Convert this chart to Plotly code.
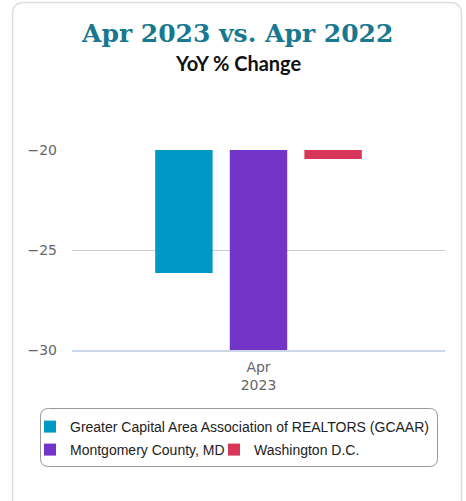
import plotly.graph_objects as go

categories = ["Apr 2023"]
tick_labels = ["Apr<br>2023"]
series_names = ["Greater Capital Area Association of REALTORS (GCAAR)",
                "Montgomery County, MD", "Washington D.C."]
gcaar = [-26.15]
montgomery = [-30.0]
dc = [-20.45]
colors = ["#0099c6", "#7334ca", "#d9375a"]

W, H = 466, 501
L, R, T, B = 72, 21, 150, 151
pw, ph = W - L - R, H - T - B

def px(x):
    return (x - L) / pw

def py(y):
    return (H - B - y) / ph

legend_ids = ["legend", "legend2", "legend3"]
fig = go.Figure()
for name, vals, c, lg in zip(series_names, [gcaar, montgomery, dc], colors, legend_ids):
    fig.add_trace(go.Bar(x=categories, y=vals, name=name, legend=lg,
                         marker=dict(color=c, line=dict(width=0))))

# card border (rounded)
x0, x1, y0, y1, r = px(12.5), px(461.5), py(2.5), py(560), 12
rx, ry = r / pw, r / ph
path = (f"M {x0+rx},{y0} L {x1-rx},{y0} Q {x1},{y0} {x1},{y0-ry} "
        f"L {x1},{y1} L {x0},{y1} L {x0},{y0-ry} Q {x0},{y0} {x0+rx},{y0} Z")
shapes = [dict(type="path", xref="paper", yref="paper", path=path,
               line=dict(color="#dddddd", width=1.5), fillcolor="rgba(0,0,0,0)", layer="below")]
# legend rounded border
lx0, lx1, ly0, ly1, lr = px(40.5), px(437.5), py(408.5), py(466.5), 8
lrx, lry = lr / pw, lr / ph
lpath = (f"M {lx0+lrx},{ly0} L {lx1-lrx},{ly0} Q {lx1},{ly0} {lx1},{ly0-lry} "
         f"L {lx1},{ly1+lry} Q {lx1},{ly1} {lx1-lrx},{ly1} L {lx0+lrx},{ly1} Q {lx0},{ly1} {lx0},{ly1+lry} "
         f"L {lx0},{ly0-lry} Q {lx0},{ly0} {lx0+lrx},{ly0} Z")
shapes.append(dict(type="path", xref="paper", yref="paper", path=lpath,
                   line=dict(color="#999999", width=1), fillcolor="rgba(0,0,0,0)"))

legend_font = dict(family="Liberation Sans, Arial", size=14, color="#222222")
def legend_at(xpix, ypix):
    return dict(orientation="h", x=px(xpix), y=py(ypix), xanchor="left", yanchor="top",
                font=legend_font, bgcolor="rgba(0,0,0,0)", borderwidth=0)

fig.update_layout(
    width=W, height=H,
    margin=dict(l=L, r=R, t=T, b=B),
    paper_bgcolor="white", plot_bgcolor="white",
    barmode="group", bargap=0.4, bargroupgap=0.23,
    showlegend=True,
    legend=legend_at(30, 411),
    legend2=legend_at(30, 434),
    legend3=legend_at(214, 434),
    shapes=shapes,
    annotations=[
        dict(text="<b>Apr 2023 vs. Apr 2022</b>", x=px(237), y=py(33), xref="paper", yref="paper",
             showarrow=False, xanchor="center", yanchor="middle",
             font=dict(family="DejaVu Serif", size=25, color="#17788f")),
        dict(text="<b>YoY % Change</b>", x=px(238), y=py(63), xref="paper", yref="paper",
             showarrow=False, xanchor="center", yanchor="middle",
             font=dict(family="Lato, Liberation Sans", size=20, color="#111111")),
    ],
    xaxis=dict(tickvals=categories, ticktext=tick_labels, showgrid=False,
               showline=True, linecolor="#ccd6eb", linewidth=1.5, ticks="",
               ticklabelstandoff=3,
               tickfont=dict(family="DejaVu Sans", size=14, color="#666666")),
    yaxis=dict(range=[-30, -20], tickvals=[-30, -25, -20], showgrid=True,
               gridcolor="#cccccc", gridwidth=1, zeroline=False, showline=False,
               ticks="", ticklabelstandoff=14,
               tickfont=dict(family="DejaVu Sans", size=14, color="#666666")),
)

fig.write_html("out.html")
